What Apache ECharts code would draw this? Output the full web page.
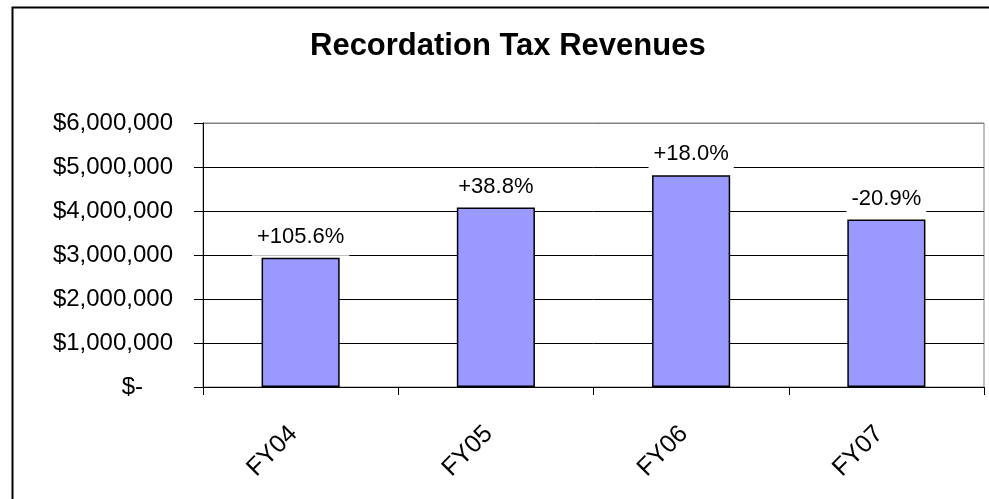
<!DOCTYPE html>
<html>
<head>
<meta charset="utf-8">
<script src="https://cdn.jsdelivr.net/npm/echarts@6/dist/echarts.min.js"></script>
<style>
  html, body { margin: 0; padding: 0; background: #fff; }
  #chart { width: 989px; height: 499px; }
</style>
</head>
<body>
<div id="chart"></div>
<script>
const categories = ['FY04', 'FY05', 'FY06', 'FY07']
const revenues = [2940000, 4080000, 4815000, 3808000]
const changeLabels = ['+105.6%', '+38.8%', '+18.0%', '-20.9%']
const yTicks = [0, 1000000, 2000000, 3000000, 4000000, 5000000, 6000000]

const FONT = '"Liberation Sans", Arial, Helvetica, sans-serif'

const chart = echarts.init(document.getElementById('chart'), null, { renderer: 'canvas' })

function money(v) {
  if (v === 0) return '{z|$-}'
  return '$' + v.toLocaleString('en-US')
}

chart.setOption({
  animation: false,
  backgroundColor: '#fff',
  title: {
    text: 'Recordation Tax Revenues',
    left: 305,
    top: 26,
    textStyle: { fontFamily: FONT, fontSize: 31, fontWeight: 'bold', color: '#000' },
  },
  graphic: [
    {
      type: 'rect',
      left: 10,
      top: 5,
      z: -10,
      shape: { width: 1000, height: 600 },
      style: { fill: 'none', stroke: '#000', lineWidth: 2 },
    },
  ],
  grid: {
    left: 203,
    right: 5,
    top: 123,
    bottom: 112,
    show: true,
    borderColor: '#808080',
    borderWidth: 1,
    backgroundColor: 'transparent',
  },
  xAxis: {
    type: 'category',
    data: categories,
    axisLine: { lineStyle: { color: '#000', width: 1 } },
    axisTick: { show: true, length: 8, lineStyle: { color: '#000' } },
    axisLabel: {
      rotate: 45,
      margin: 36,
      padding: [0, 10, 0, 0],
      fontFamily: FONT,
      fontSize: 25,
      color: '#000',
    },
  },
  yAxis: {
    type: 'value',
    min: yTicks[0],
    max: yTicks[yTicks.length - 1],
    interval: yTicks[1] - yTicks[0],
    axisLine: { show: true, lineStyle: { color: '#000', width: 1 } },
    axisTick: { show: true, length: 9, lineStyle: { color: '#000' } },
    axisLabel: {
      margin: 30,
      fontFamily: FONT,
      fontSize: 24,
      color: '#000',
      formatter: money,
      rich: {
        z: { fontFamily: FONT, fontSize: 24, color: '#000', padding: [0, 30, 0, 0] },
      },
    },
    splitLine: {
      lineStyle: {
        color: ['#000', '#000', '#000', '#000', '#000', '#000', '#808080'],
        width: 1,
      },
    },
  },
  series: [
    {
      type: 'bar',
      data: revenues,
      barWidth: '40%',
      itemStyle: { color: '#9999ff', borderColor: '#000', borderWidth: 1.5 },
      label: {
        show: true,
        position: 'top',
        distance: 2,
        formatter: p => changeLabels[p.dataIndex],
        fontFamily: FONT,
        fontSize: 22,
        color: '#000',
        backgroundColor: '#fff',
        padding: [4, 5, 8, 5],
      },
    },
  ],
})
</script>
</body>
</html>
